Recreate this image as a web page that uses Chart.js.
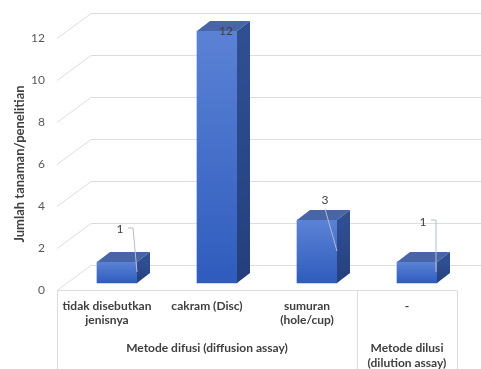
<!DOCTYPE html>
<html lang="id">
<head>
    <meta charset="UTF-8">
    <title>Jumlah tanaman/penelitian per metode</title>
    <script src="https://cdn.jsdelivr.net/npm/chart.js"></script>
    <style>
        html, body { margin: 0; padding: 0; background: #ffffff; }
        canvas { display: block; }
    </style>
</head>
<body>
    <canvas id="grafik" width="481" height="369"></canvas>

    <script>
        // Data dari grafik
        const kategori = [['tidak disebutkan', 'jenisnya'], 'cakram (Disc)', ['sumuran', '(hole/cup)'], '-'];
        const jumlah = [1, 12, 3, 1];
        const kelompok = ['Metode difusi (diffusion assay)', ['Metode dilusi', '(dilution assay)']];
        const lebarKelompok = [3, 1];
        const tickY = [0, 2, 4, 6, 8, 10, 12];

        // Posisi label data relatif terhadap sudut kanan atas batang (gaya saja)
        const posisiLabel = [
            { dx: -17, dy: -33, garis: [[-9, -34], [-4, -34], [0, 10]] },
            { dx: -11, dy: 0, garis: null },
            { dx: -12, dy: -20, garis: [[-12, -11], [0, 31]] },
            { dx: -14, dy: -40, garis: [[-6, -42], [-1, -42], [-1, 10]] }
        ];

        const FONT = 'Lato, "Open Sans", sans-serif';
        const DINDING = { dx: 34, dy: -25 };   // kedalaman dinding belakang
        const TEBAL = { dx: 13, dy: -10 };     // kedalaman batang

        // Gradasi muka depan batang
        function warnaDepan(ctx) {
            const chart = ctx.chart;
            const yb = chart.scales.yb;
            if (!yb || ctx.type !== 'data' || !ctx.raw) return '#3f6bcb';
            const atas = yb.getPixelForValue(ctx.raw.y);
            const bawah = yb.getPixelForValue(0);
            if (!Number.isFinite(atas) || !Number.isFinite(bawah) || atas === bawah) return '#3f6bcb';
            const g = chart.ctx.createLinearGradient(0, atas, 0, bawah);
            g.addColorStop(0, '#5b82d5');
            g.addColorStop(1, '#2f5cbd');
            return g;
        }

        // Plugin untuk dinding 3D, garis grid dan kotak kategori
        const dinding3D = {
            id: 'dinding3D',
            beforeDatasetsDraw(chart) {
                const c = chart.ctx;
                const y = chart.scales.y;
                const x = chart.scales.x;
                const kiri = x.getPixelForValue(-0.5);
                const kanan = x.getPixelForValue(3.5);
                c.save();
                c.strokeStyle = '#dadde3';
                c.lineWidth = 1;
                tickY.forEach(v => {
                    const yy = Math.round(y.getPixelForValue(v)) + 0.5;
                    c.beginPath();
                    c.moveTo(kiri, yy);
                    c.lineTo(kiri + DINDING.dx, yy + DINDING.dy);
                    c.lineTo(chart.width, yy + DINDING.dy);
                    c.stroke();
                });
                // garis lantai depan dan pemisah kelompok
                const dasar = Math.round(y.getPixelForValue(0)) + 0.5;
                c.beginPath();
                c.moveTo(kiri, dasar);
                c.lineTo(kanan, dasar);
                let idx = -0.5;
                const batas = [idx];
                lebarKelompok.forEach(n => { idx += n; batas.push(idx); });
                batas.forEach(b => {
                    const bx = Math.round(x.getPixelForValue(b)) + 0.5;
                    c.moveTo(bx, dasar);
                    c.lineTo(bx, chart.height);
                });
                c.stroke();
                c.restore();
            },
            afterDatasetsDraw(chart) {
                const c = chart.ctx;
                const meta = chart.getDatasetMeta(0);
                c.save();
                meta.data.forEach((bar, i) => {
                    const kiri = bar.x - bar.width / 2;
                    const kanan = bar.x + bar.width / 2;
                    const atas = bar.y;
                    const bawah = bar.base;
                    // muka atas
                    c.fillStyle = '#4765a7';
                    c.beginPath();
                    c.moveTo(kiri, atas);
                    c.lineTo(kiri + TEBAL.dx, atas + TEBAL.dy);
                    c.lineTo(kanan + TEBAL.dx, atas + TEBAL.dy);
                    c.lineTo(kanan, atas);
                    c.closePath();
                    c.fill();
                    // muka samping
                    const g = c.createLinearGradient(0, atas, 0, bawah);
                    g.addColorStop(0, '#304f93');
                    g.addColorStop(1, '#243f7c');
                    c.fillStyle = g;
                    c.beginPath();
                    c.moveTo(kanan, atas);
                    c.lineTo(kanan + TEBAL.dx, atas + TEBAL.dy);
                    c.lineTo(kanan + TEBAL.dx, bawah + TEBAL.dy);
                    c.lineTo(kanan, bawah);
                    c.closePath();
                    c.fill();
                });
                // label data dengan garis penunjuk
                c.font = '12px ' + FONT;
                c.textAlign = 'center';
                c.textBaseline = 'middle';
                meta.data.forEach((bar, i) => {
                    const p = posisiLabel[i];
                    const ax = bar.x + bar.width / 2;
                    const ay = bar.y;
                    if (p.garis) {
                        c.strokeStyle = '#b3bccb';
                        c.lineWidth = 1;
                        c.beginPath();
                        p.garis.forEach((pt, k) => {
                            if (k === 0) c.moveTo(ax + pt[0], ay + pt[1]);
                            else c.lineTo(ax + pt[0], ay + pt[1]);
                        });
                        c.stroke();
                    }
                    c.fillStyle = '#404040';
                    c.fillText(String(jumlah[i]), ax + p.dx, ay + p.dy);
                });
                c.restore();
            },
            afterDraw(chart) {
                const c = chart.ctx;
                const x = chart.scales.x;
                c.save();
                c.font = 'bold 12px ' + FONT;
                c.fillStyle = '#404040';
                c.textAlign = 'center';
                c.textBaseline = 'middle';
                let mulai = -0.5;
                kelompok.forEach((teks, k) => {
                    const akhir = mulai + lebarKelompok[k];
                    const cx = (x.getPixelForValue(mulai) + x.getPixelForValue(akhir)) / 2;
                    const baris = Array.isArray(teks) ? teks : [teks];
                    baris.forEach((t, j) => c.fillText(t, cx, 348 + j * 15));
                    mulai = akhir;
                });
                c.restore();
            }
        };

        new Chart(document.getElementById('grafik'), {
            type: 'bar',
            data: {
                labels: kategori,
                datasets: [{
                    data: jumlah.map((v, i) => ({ x: i, y: v })),
                    xAxisID: 'xb',
                    yAxisID: 'yb',
                    backgroundColor: warnaDepan,
                    borderWidth: 0,
                    barThickness: 40,
                    clip: false
                }]
            },
            options: {
                responsive: false,
                animation: false,
                layout: { padding: { top: 38, right: 24, left: 0, bottom: 0 } },
                plugins: {
                    legend: { display: false },
                    tooltip: { enabled: false }
                },
                scales: {
                    x: {
                        type: 'category',
                        offset: true,
                        grid: { display: false, drawTicks: false },
                        border: { display: false },
                        ticks: {
                            maxRotation: 0,
                            autoSkip: false,
                            padding: 9,
                            color: '#404040',
                            font: { family: FONT, size: 12, weight: 'bold' }
                        },
                        afterFit: s => { s.height = 79; }
                    },
                    y: {
                        type: 'linear',
                        min: 0,
                        max: 12,
                        grid: { display: false, drawTicks: false },
                        border: { display: false },
                        ticks: {
                            stepSize: 2,
                            padding: 12,
                            color: '#595959',
                            font: { family: FONT, size: 12 }
                        },
                        title: {
                            display: true,
                            text: 'Jumlah tanaman/penelitian',
                            color: '#404040',
                            font: { family: FONT, size: 13, weight: 'bold' },
                            padding: { top: 12, bottom: 0 }
                        },
                        afterFit: s => { s.width = 57; }
                    },
                    xb: { type: 'linear', display: false, offset: false, min: -0.6, max: 3.4 },
                    yb: { type: 'linear', display: false, min: -1 / 3, max: 12 - 1 / 3 }
                }
            },
            plugins: [dinding3D]
        });
    </script>
</body>
</html>
